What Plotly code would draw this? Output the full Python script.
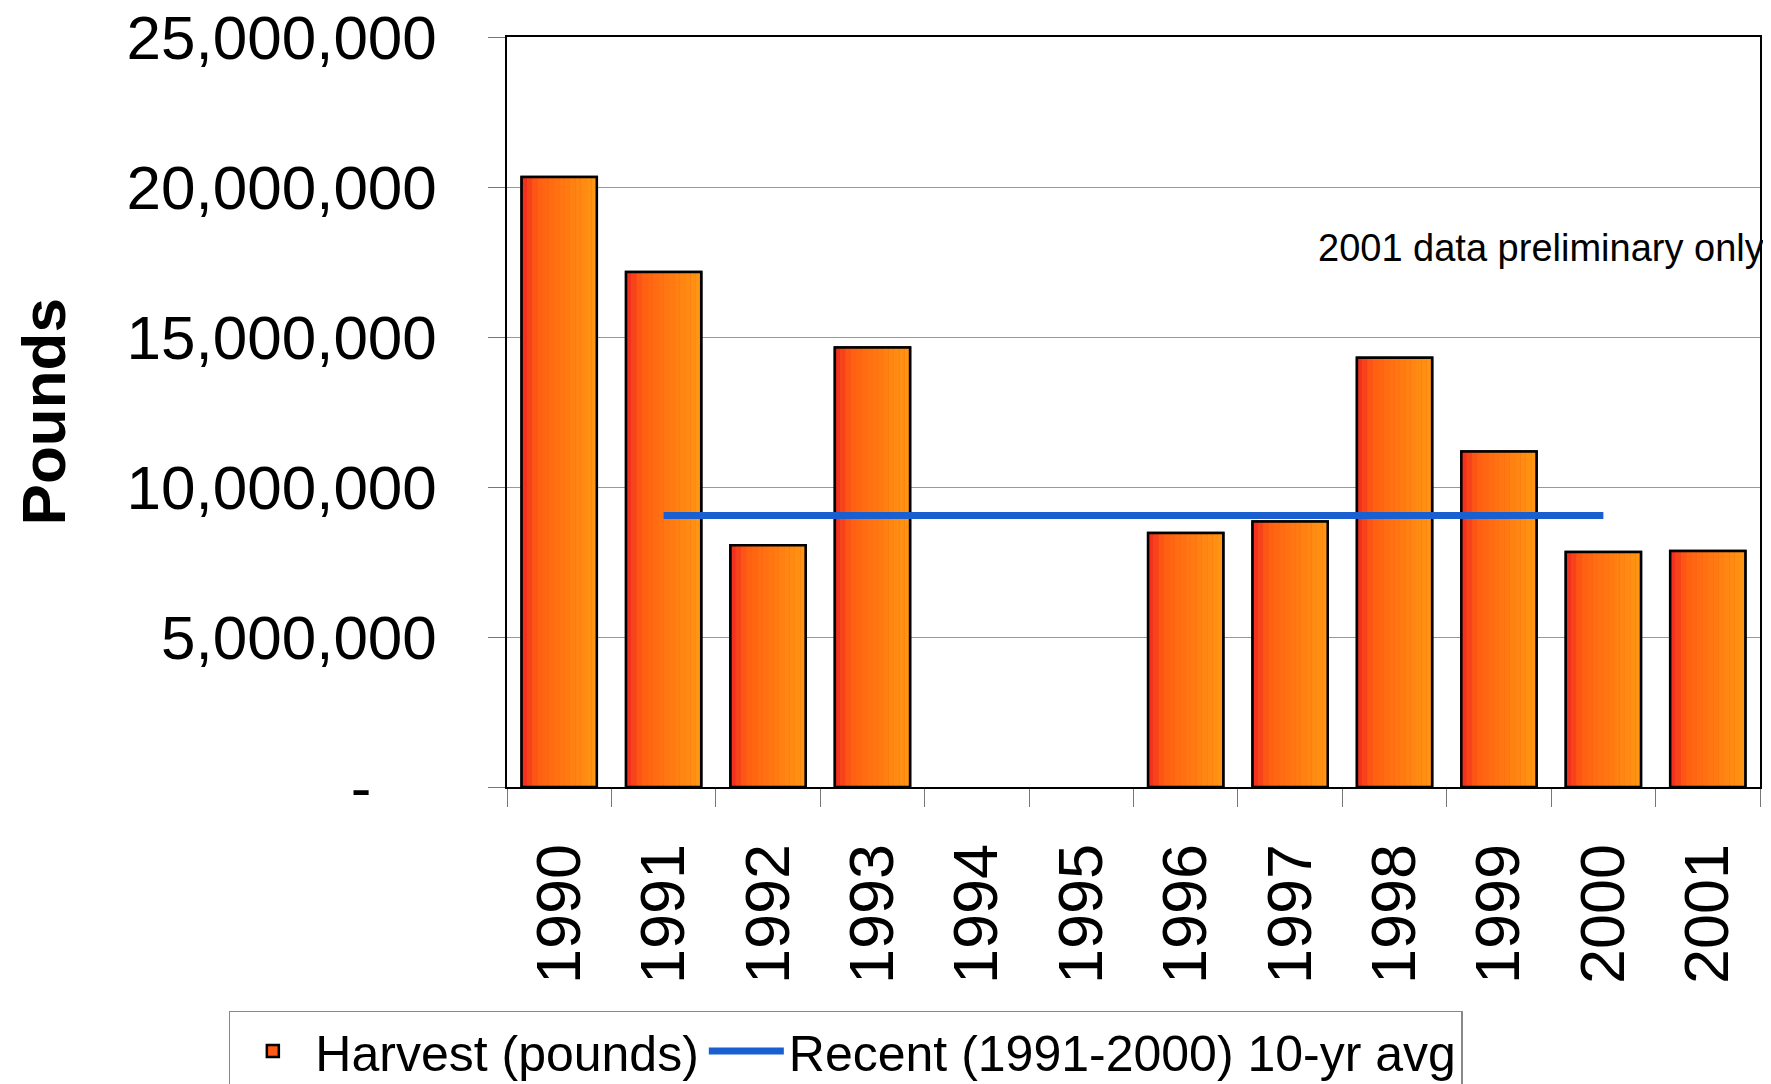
import plotly.graph_objects as go

years = ["1990", "1991", "1992", "1993", "1994", "1995", "1996", "1997", "1998", "1999", "2000", "2001"]
harvest = [20330000, 17170000, 8060000, 14650000, None, None, 8470000, 8850000, 14310000, 11180000, 7830000, 7870000]
avg_years = ["1991", "2000"]
avg_values = [9050000, 9050000]
ytick_vals = [0, 5000000, 10000000, 15000000, 20000000, 25000000]
ytick_text = ["-\u2007\u2002", "5,000,000", "10,000,000", "15,000,000", "20,000,000", "25,000,000"]

FONT = "Liberation Sans, Arial, sans-serif"
BAR_W = 0.72
N_STRIPES = 14


def lerp_color(t):
    stops = [(0.0, (240, 40, 34)), (0.22, (255, 95, 18)), (1.0, (255, 152, 18))]
    for (t0, c0), (t1, c1) in zip(stops[:-1], stops[1:]):
        if t <= t1:
            f = (t - t0) / (t1 - t0)
            return "rgb(%d,%d,%d)" % tuple(round(a + (b - a) * f) for a, b in zip(c0, c1))
    return "rgb(%d,%d,%d)" % stops[-1][1]


fig = go.Figure()

# base bar (legend entry)
fig.add_trace(go.Bar(
    x=years, y=harvest, name="Harvest (pounds)", width=BAR_W,
    marker=dict(color="#ff5a16", line=dict(color="black", width=2.5)),
    hoverinfo="skip",
))

# gradient stripes
sw = BAR_W / N_STRIPES
for i in range(N_STRIPES):
    fig.add_trace(go.Bar(
        x=years, y=harvest, width=sw, offset=-BAR_W / 2 + i * sw,
        marker=dict(color=lerp_color((i + 0.5) / N_STRIPES), line=dict(width=0)),
        showlegend=False, hoverinfo="skip",
    ))

# outline on top
fig.add_trace(go.Bar(
    x=years, y=harvest, width=BAR_W,
    marker=dict(color="rgba(0,0,0,0)", line=dict(color="black", width=2.5)),
    showlegend=False, hoverinfo="skip",
))

fig.add_trace(go.Scatter(
    x=avg_years, y=avg_values, mode="lines", name="Recent (1991-2000) 10-yr avg",
    line=dict(color="#1a5fd0", width=7),
))

fig.update_layout(
    width=1763, height=1076,
    margin=dict(l=499, r=11, t=29, b=297, autoexpand=False),
    paper_bgcolor="white", plot_bgcolor="white",
    barmode="overlay",
    font=dict(family=FONT, color="black"),
    showlegend=True,
    legend=dict(
        orientation="h", x=-0.222, xanchor="left", y=-0.298, yanchor="top",
        font=dict(size=50, family=FONT, color="black"),
        bgcolor="white", bordercolor="#888888", borderwidth=1.5,
        itemwidth=75, tracegroupgap=0,
    ),
    xaxis=dict(
        type="category", categoryorder="array", categoryarray=years,
        range=[-0.5, 11.5], automargin=False,
        showline=True, linecolor="black", linewidth=1.5, mirror=True,
        ticks="outside", tickson="boundaries", ticklen=18, tickcolor="#777777", tickwidth=1.2,
        tickangle=-90, tickfont=dict(size=63, family=FONT, color="black"),
        ticklabelstandoff=30, ticklabeloverflow="allow",
        showgrid=False,
    ),
    yaxis=dict(
        range=[0, 25000000], automargin=False,
        tickvals=ytick_vals, ticktext=ytick_text,
        showline=True, linecolor="black", linewidth=1.5, mirror=True,
        ticks="outside", ticklen=17, tickcolor="#777777", tickwidth=1.2,
        tickfont=dict(size=62, family=FONT, color="black"),
        ticklabelstandoff=39, ticklabeloverflow="allow",
        showgrid=True, gridcolor="#999999", gridwidth=1.2,
        zeroline=False,
    ),
    annotations=[
        dict(text="2001 data preliminary only", xref="paper", yref="paper",
             x=1.005, y=0.719, xanchor="right", yanchor="middle", showarrow=False,
             font=dict(size=38, family=FONT, color="black")),
        dict(text="<b>Pounds</b>", xref="paper", yref="paper",
             x=-0.37, y=0.5, xanchor="center", yanchor="middle", textangle=-90,
             showarrow=False, font=dict(size=62, family=FONT, color="black")),
    ],
)

fig.write_html("out.html")
